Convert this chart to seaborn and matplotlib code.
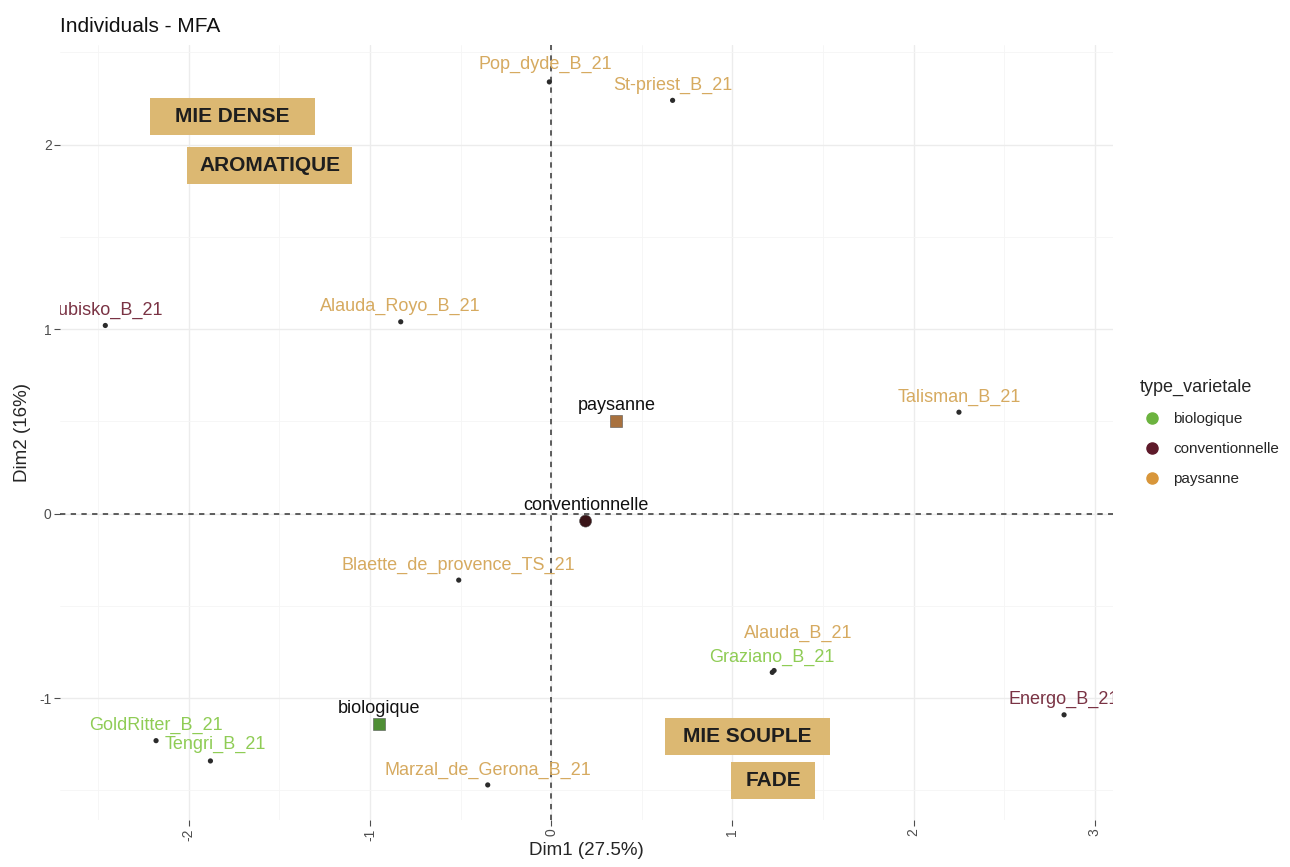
import matplotlib
matplotlib.use("Agg")
import matplotlib.pyplot as plt
import seaborn as sns
import pandas as pd
from matplotlib.patches import Rectangle
from matplotlib.lines import Line2D

# individuals (Dim1, Dim2)
ind_names = ["Pop_dyde_B_21", "St-priest_B_21", "Lubisko_B_21", "Alauda_Royo_B_21",
             "Talisman_B_21", "Blaette_de_provence_TS_21", "Alauda_B_21", "Graziano_B_21",
             "Energo_B_21", "GoldRitter_B_21", "Tengri_B_21", "Marzal_de_Gerona_B_21"]
ind_dim1 = [-0.01, 0.67, -2.46, -0.83, 2.25, -0.51, 1.23, 1.22, 2.83, -2.18, -1.88, -0.35]
ind_dim2 = [2.34, 2.24, 1.02, 1.04, 0.55, -0.36, -0.85, -0.86, -1.09, -1.23, -1.34, -1.47]
ind_type = ["paysanne", "paysanne", "conventionnelle", "paysanne", "paysanne", "paysanne",
            "paysanne", "biologique", "conventionnelle", "biologique", "biologique", "paysanne"]

# group centres
grp_names = ["biologique", "conventionnelle", "paysanne"]
grp_dim1 = [-0.95, 0.19, 0.36]
grp_dim2 = [-1.14, -0.04, 0.50]

# overlay annotation boxes
box_texts = ["MIE DENSE", "AROMATIQUE", "MIE SOUPLE", "FADE"]

palette = {"biologique": "#6cb33f", "conventionnelle": "#5e1a2a", "paysanne": "#d8963a"}
mean_col = {"biologique": "#4f8f35", "conventionnelle": "#3a1518", "paysanne": "#a8713e"}
mean_marker = {"biologique": "s", "conventionnelle": "o", "paysanne": "s"}
label_col = {"biologique": "#8fcc55", "conventionnelle": "#7a3344", "paysanne": "#d6aa60"}

ind = pd.DataFrame({"name": ind_names, "Dim1": ind_dim1, "Dim2": ind_dim2, "type_varietale": ind_type})
grp = pd.DataFrame({"name": grp_names, "Dim1": grp_dim1, "Dim2": grp_dim2, "type_varietale": grp_names})

sns.set_theme(style="whitegrid")
plt.rcParams["font.family"] = ["Liberation Sans", "DejaVu Sans"]
plt.rcParams["axes.unicode_minus"] = False

fig = plt.figure(figsize=(12.9, 8.67), dpi=100)
ax = fig.add_axes([60 / 1290, 1 - 820 / 867, (1113 - 60) / 1290, (820 - 45) / 867])

ax.axhline(0, color="#333333", ls=(0, (3.5, 3.5)), lw=1.1, zorder=1)
ax.axvline(0, color="#333333", ls=(0, (3.5, 3.5)), lw=1.1, zorder=1)

sns.scatterplot(data=ind, x="Dim1", y="Dim2", color="#2b2b2b", s=14, edgecolor="none",
                ax=ax, legend=False, zorder=3)
sns.scatterplot(data=grp, x="Dim1", y="Dim2", hue="type_varietale", palette=mean_col,
                style="type_varietale", markers=mean_marker, s=75, edgecolor="#555555",
                linewidth=0.4, ax=ax, legend=False, zorder=4)

# label offsets in pixels (text above points)
offsets = {"Alauda_B_21": (24, 37), "Tengri_B_21": (5, 17), "Pop_dyde_B_21": (-4, 17)}
for _, r in ind.iterrows():
    dx, dy = offsets.get(r["name"], (0, 15))
    ax.annotate(r["name"], (r["Dim1"], r["Dim2"]), xytext=(dx * 0.72, dy * 0.72),
                textcoords="offset points", ha="center", va="center", fontsize=13,
                color=label_col[r["type_varietale"]], clip_on=True, zorder=5)
for _, r in grp.iterrows():
    ax.annotate(r["name"], (r["Dim1"], r["Dim2"]), xytext=(0, 11.5),
                textcoords="offset points", ha="center", va="center", fontsize=13,
                color="#111111", zorder=5)

ax.set_xlim(-2.71, 3.10)
ax.set_ylim(-1.66, 2.54)
ax.set_xticks([-2, -1, 0, 1, 2, 3])
ax.set_yticks([-1, 0, 1, 2])
ax.set_xticks([-2.5, -1.5, -0.5, 0.5, 1.5, 2.5], minor=True)
ax.set_yticks([-1.5, -0.5, 0.5, 1.5, 2.5], minor=True)
ax.grid(which="major", color="#ececec", lw=1.0)
ax.grid(which="minor", color="#f5f5f5", lw=0.6)
for s in ax.spines.values():
    s.set_visible(False)
ax.tick_params(axis="both", which="major", length=4, width=0.8, color="#4d4d4d",
               labelsize=10, labelcolor="#4d4d4d", pad=2, left=True, bottom=True)
ax.tick_params(axis="x", rotation=90)
ax.set_xlabel("Dim1 (27.5%)", fontsize=13.5, labelpad=1)
ax.set_ylabel("Dim2 (16%)", fontsize=13.5, labelpad=6)

fig.text(60 / 1290, 1 - 27 / 867, "Individuals - MFA", fontsize=15, va="center", ha="left",
         color="#111111")

handles = [Line2D([], [], marker="o", ls="none", color=palette[g], markersize=8) for g in grp_names]
leg = ax.legend(handles, grp_names, title="type_varietale", loc="upper left",
                bbox_to_anchor=(1126 / 1290, 1 - 365 / 867), bbox_transform=fig.transFigure,
                frameon=False, fontsize=11, title_fontsize=13, handletextpad=0.6,
                labelspacing=1.05, handlelength=1.6)
leg._legend_box.align = "left"

# annotation boxes: (x0, y0, x1, y1) in figure pixels
boxes = [(150, 98, 315, 135), (187, 147, 352, 184), (665, 718, 830, 755), (731, 762, 815, 799)]
for (x0, y0, x1, y1), t in zip(boxes, box_texts):
    fig.patches.append(Rectangle((x0 / 1290, 1 - y1 / 867), (x1 - x0) / 1290, (y1 - y0) / 867,
                                 transform=fig.transFigure, facecolor="#dcb872", edgecolor="none",
                                 zorder=10))
    fig.text((x0 + x1) / 2 / 1290, 1 - (y0 + y1) / 2 / 867, t, ha="center", va="center",
             fontsize=15, fontweight="bold", color="#1e1e1e", zorder=11,
             family=["Liberation Sans", "DejaVu Sans"])

fig.savefig("out.png", dpi=100)
